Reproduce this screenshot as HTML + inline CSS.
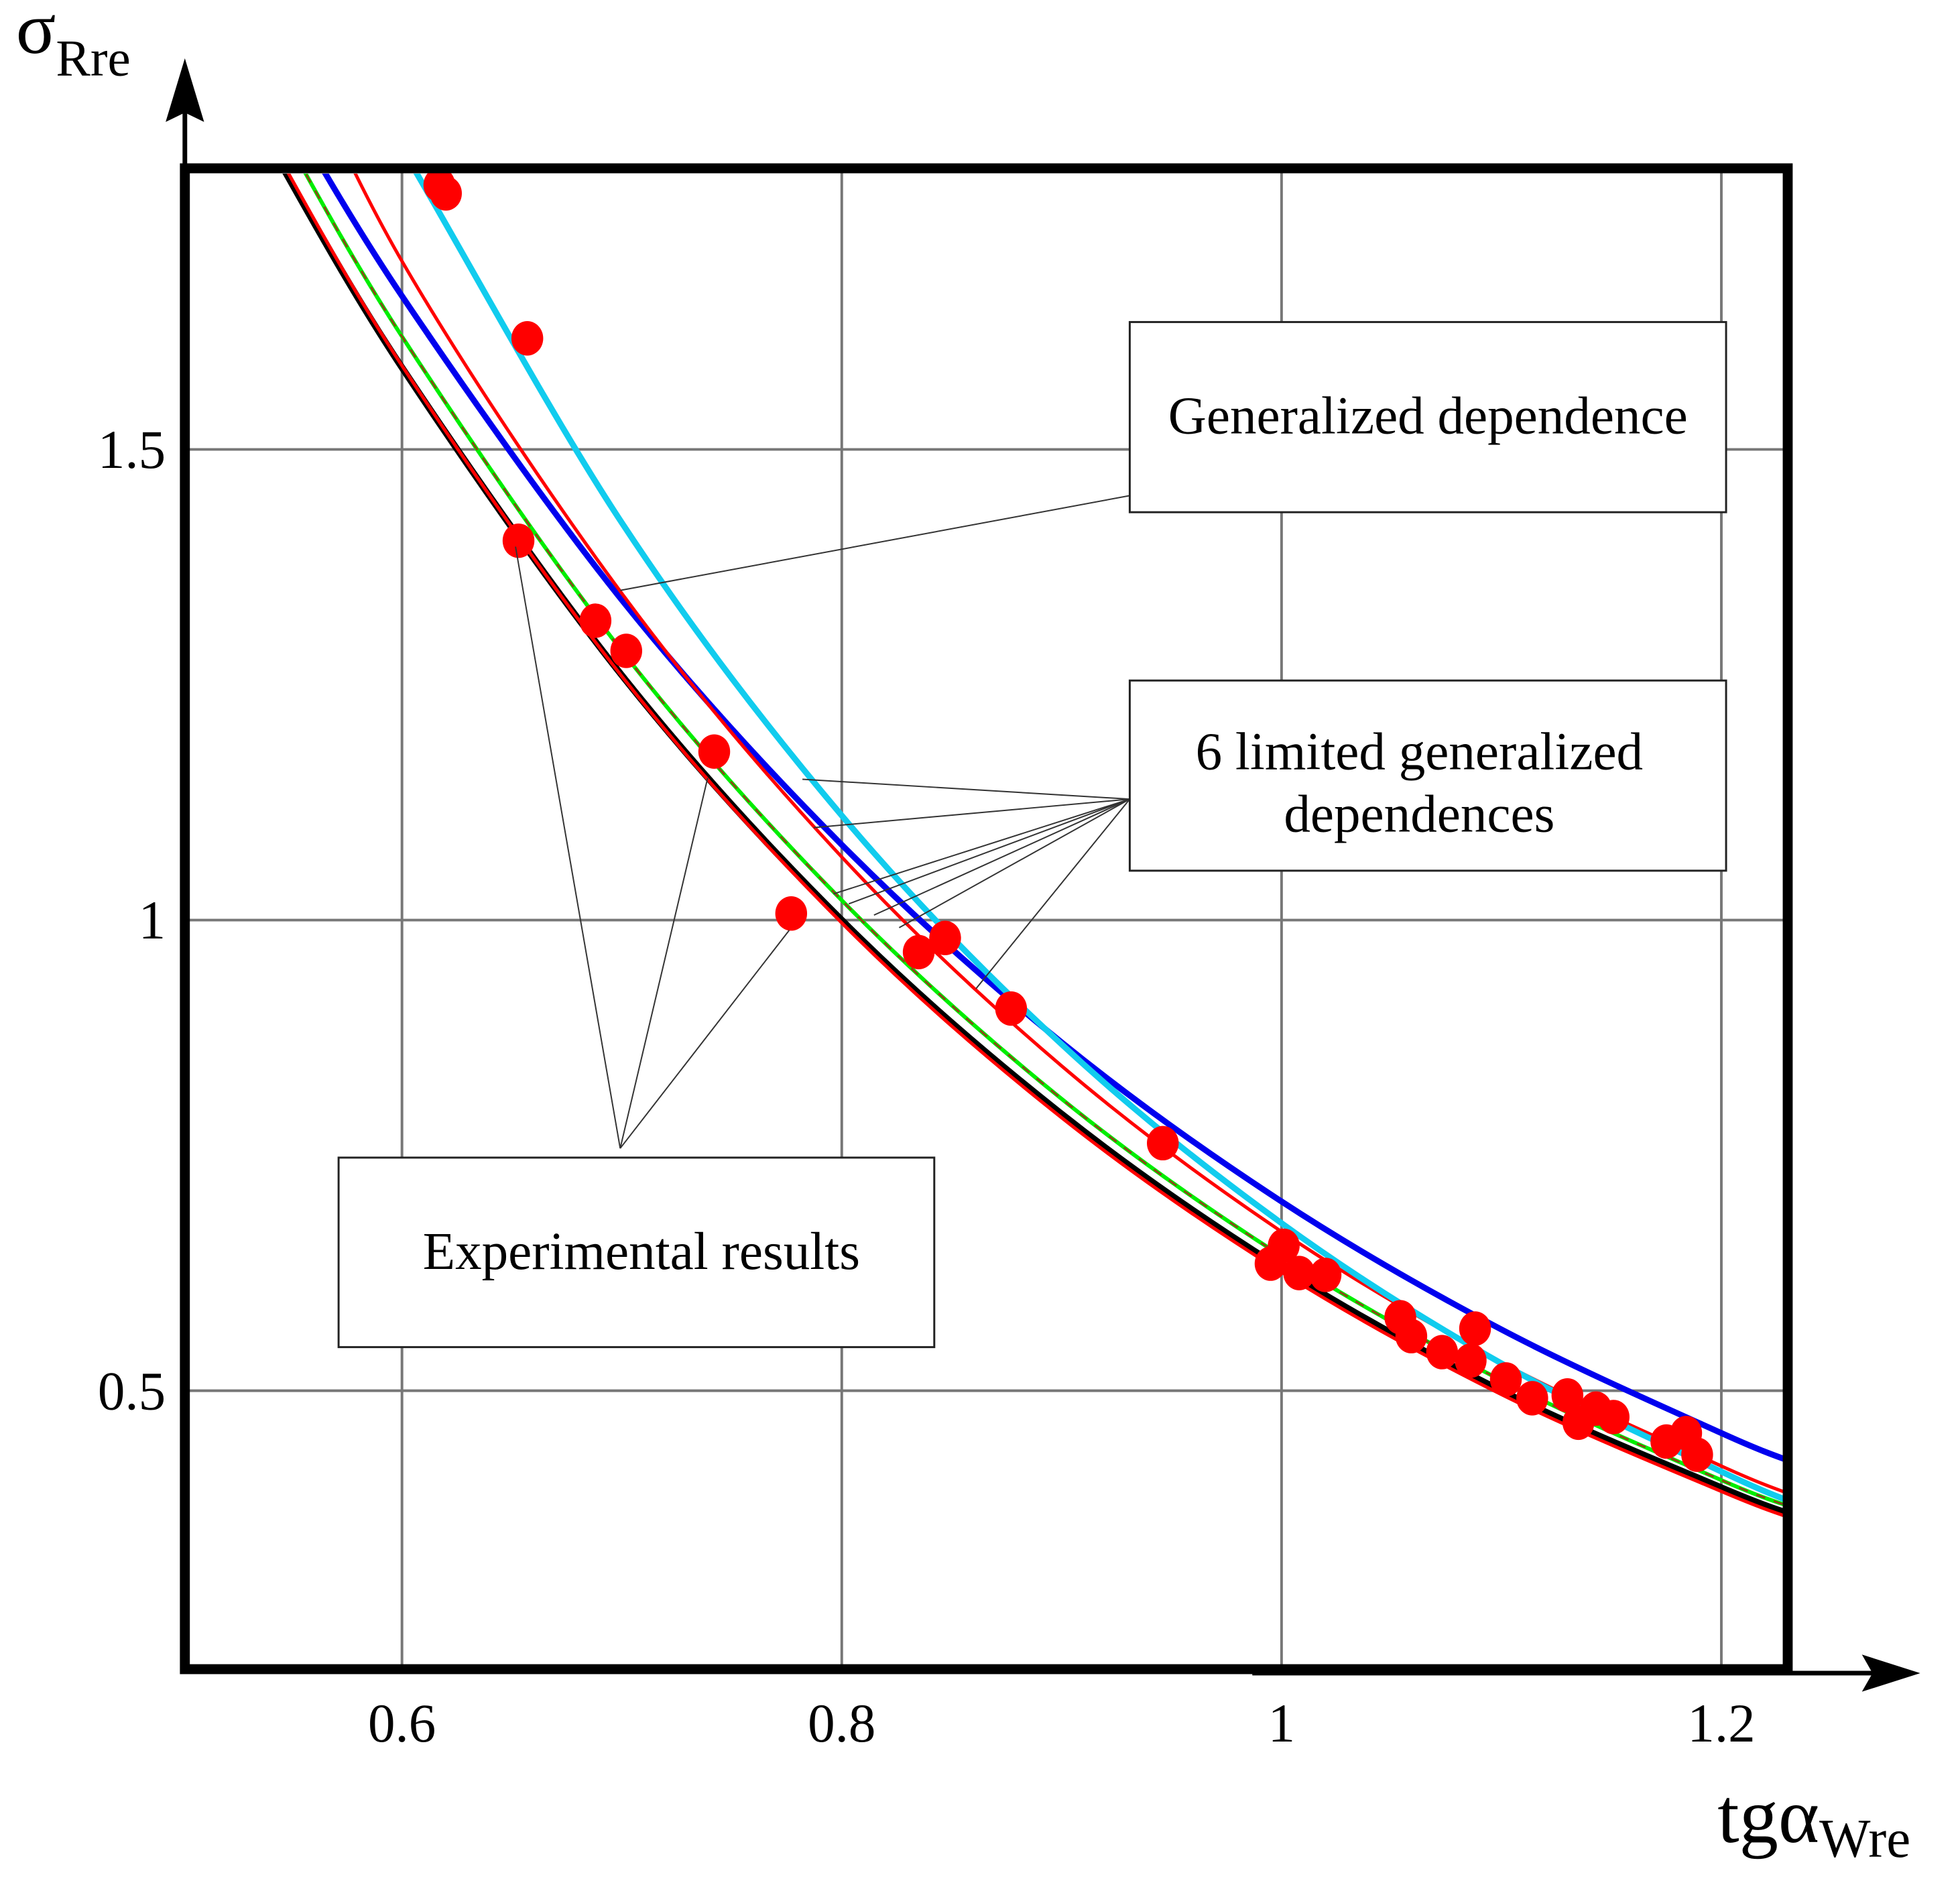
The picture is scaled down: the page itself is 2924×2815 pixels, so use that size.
<!DOCTYPE html>
<html><head><meta charset="utf-8"><style>
html,body{margin:0;padding:0;background:#fff;}
svg{display:block;}
text{font-family:"Liberation Serif","DejaVu Serif",serif;fill:#000;}
</style></head><body>
<svg id="chart" width="2924" height="2815" viewBox="0 0 2924 2815" xmlns="http://www.w3.org/2000/svg">
<defs><clipPath id="plotclip"><rect x="287" y="262" width="2404" height="2249"/></clipPath></defs>
<g transform="scale(0.9885)">
<g id="grid"></g>
<g id="curves" clip-path="url(#plotclip)"></g>
<g id="points"></g>
<g id="leaders" stroke="#333" stroke-width="2" fill="none"></g>
<rect x="279" y="254" width="2419" height="2265" fill="none" stroke="#000" stroke-width="15"/>
<line x1="279" y1="254" x2="279" y2="150" stroke="#000" stroke-width="7"/>
<polygon points="279,88 250,184 279,170 308,184" fill="#000"/>
<line x1="1890" y1="2525" x2="2840" y2="2525" stroke="#000" stroke-width="7"/>
<polygon points="2898,2525 2810,2497 2826,2525 2810,2553" fill="#000"/>
<g id="ticks"></g>
<text x="24" y="80" font-size="112">σ<tspan font-size="78" dy="34">Rre</tspan></text>
<text x="2592" y="2780" font-size="118">tgα<tspan font-size="82" dy="22">Wre</tspan></text>
<g>
<rect x="1705" y="486" width="900" height="287" fill="#fff" stroke="#222" stroke-width="3"/>
<text x="2155" y="654" font-size="80" text-anchor="middle">Generalized dependence</text></g>
<g>
<rect x="1705" y="1027" width="900" height="287" fill="#fff" stroke="#222" stroke-width="3"/>
<text x="2142" y="1161" font-size="80" text-anchor="middle">6 limited generalized</text>
<text x="2142" y="1255" font-size="80" text-anchor="middle">dependences</text></g>
<g>
<rect x="511" y="1747" width="899" height="286" fill="#fff" stroke="#222" stroke-width="3"/>
<text x="968" y="1915" font-size="80" text-anchor="middle">Experimental results</text></g>
</g>
</svg>
<script>
const xTicks=[0.6,0.8,1.0,1.2];
const xTickLabels=["0.6","0.8","1","1.2"];
const yTicks=[0.5,1.0,1.5];
const yTickLabels=["0.5","1","1.5"];
const curveX=[0.54,0.6,0.7,0.8,0.9,1.0,1.1,1.2,1.235];
const blackY=[1.823,1.587,1.260,1.000,0.794,0.630,0.500,0.397,0.366];
const red1Y=[1.828,1.589,1.259,0.997,0.790,0.626,0.496,0.393,0.362];
const greenY=[1.861,1.620,1.286,1.021,0.810,0.643,0.511,0.405,0.374];
const blueY=[1.894,1.663,1.340,1.080,0.870,0.701,0.565,0.455,0.422];
const cyanY=[2.05,1.820,1.422,1.111,0.868,0.678,0.529,0.414,0.379];
const red2Y=[1.99,1.700,1.347,1.067,0.845,0.669,0.530,0.420,0.387];
const expX=[0.617,0.620,0.657,0.653,0.688,0.702,0.742,0.777,0.835,0.847,0.877,0.946,1.001,0.995,1.008,1.020,1.054,1.059,1.073,1.088,1.086,1.102,1.114,1.130,1.135,1.143,1.151,1.175,1.184,1.189];
const expY=[1.781,1.772,1.618,1.403,1.318,1.286,1.179,1.007,0.966,0.981,0.906,0.763,0.654,0.635,0.625,0.623,0.578,0.558,0.541,0.566,0.532,0.512,0.492,0.495,0.466,0.481,0.472,0.446,0.455,0.432];
const NS='http://www.w3.org/2000/svg';
function sx(v){return 1.884*(322+(v-0.6)*1761.5);}
function sy(v){return 1.884*(737-(v-1)*754);}
function mk(tag,attrs,parent){const e=document.createElementNS(NS,tag);for(const k in attrs)e.setAttribute(k,attrs[k]);parent.appendChild(e);return e;}
const grid=document.getElementById('grid');
const tickG=document.getElementById('ticks');
xTicks.forEach((t,i)=>{
 const l=mk('line',{x1:sx(t),x2:sx(t),y1:254,y2:2519,stroke:'#777','stroke-width':4},grid);
 
 
 const tx=mk('text',{x:sx(t),y:2628,'font-size':82,'text-anchor':'middle'},tickG);
 tx.textContent=xTickLabels[i];
 
 
});
yTicks.forEach((t,i)=>{
 const l=mk('line',{x1:279,x2:2698,y1:sy(t),y2:sy(t),stroke:'#777','stroke-width':4},grid);
 
 
 const tx=mk('text',{x:250,y:sy(t)+28,'font-size':82,'text-anchor':'end'},tickG);
 tx.textContent=yTickLabels[i];
 
 
});
function pathD(xs,ys){
 const p=xs.map((x,i)=>[sx(x),sy(ys[i])]);
 let d='M'+p[0][0]+','+p[0][1];
 for(let i=0;i<p.length-1;i++){
  const p0=p[Math.max(0,i-1)],p1=p[i],p2=p[i+1],p3=p[Math.min(p.length-1,i+2)];
  const c1=[p1[0]+(p2[0]-p0[0])/6,p1[1]+(p2[1]-p0[1])/6];
  const c2=[p2[0]-(p3[0]-p1[0])/6,p2[1]-(p3[1]-p1[1])/6];
  d+=' C'+c1[0]+','+c1[1]+' '+c2[0]+','+c2[1]+' '+p2[0]+','+p2[1];
 }
 return d;
}
const cg=document.getElementById('curves');
function curve(ys,color,w,name,dash){
 const a={d:pathD(curveX,ys),fill:'none',stroke:color,'stroke-width':w};
 if(dash)a['stroke-dasharray']=dash;
 const e=mk('path',a,cg);
 
 
 return e;
}
curve(blackY,'#000',10,'black-curve');
curve(red1Y,'#ff0000',5,'red-curve-lower');
curve(greenY,'#00ee00',6,'green-curve');
curve(greenY,'#8b4513',3,'green-curve-dashes','14 14');
curve(blueY,'#0000ee',9,'blue-curve');
curve(red2Y,'#ff0000',5,'red-curve-upper');
curve(cyanY,'#11ccee',9,'cyan-curve');
const pg=document.getElementById('points');
expX.forEach((x,i)=>{
 const c=mk('ellipse',{cx:sx(x),cy:sy(expY[i]),rx:24,ry:26,fill:'#ff0000'},pg);
 
 
});
const lg=document.getElementById('leaders');
const leaders=[[1705,748,936,891],[1705,1206,1211,1176],[1705,1206,1228,1249],[1705,1206,1258,1349],[1705,1206,1281,1364],[1705,1206,1319,1381],[1705,1206,1357,1400],[1705,1206,1473,1492],[936,1733,778,825],[936,1733,1068,1174],[936,1733,1191,1404]];
leaders.forEach(l=>{
 const e=mk('line',{x1:l[0],y1:l[1],x2:l[2],y2:l[3]},lg);
 
 
});
</script>
</body></html>
